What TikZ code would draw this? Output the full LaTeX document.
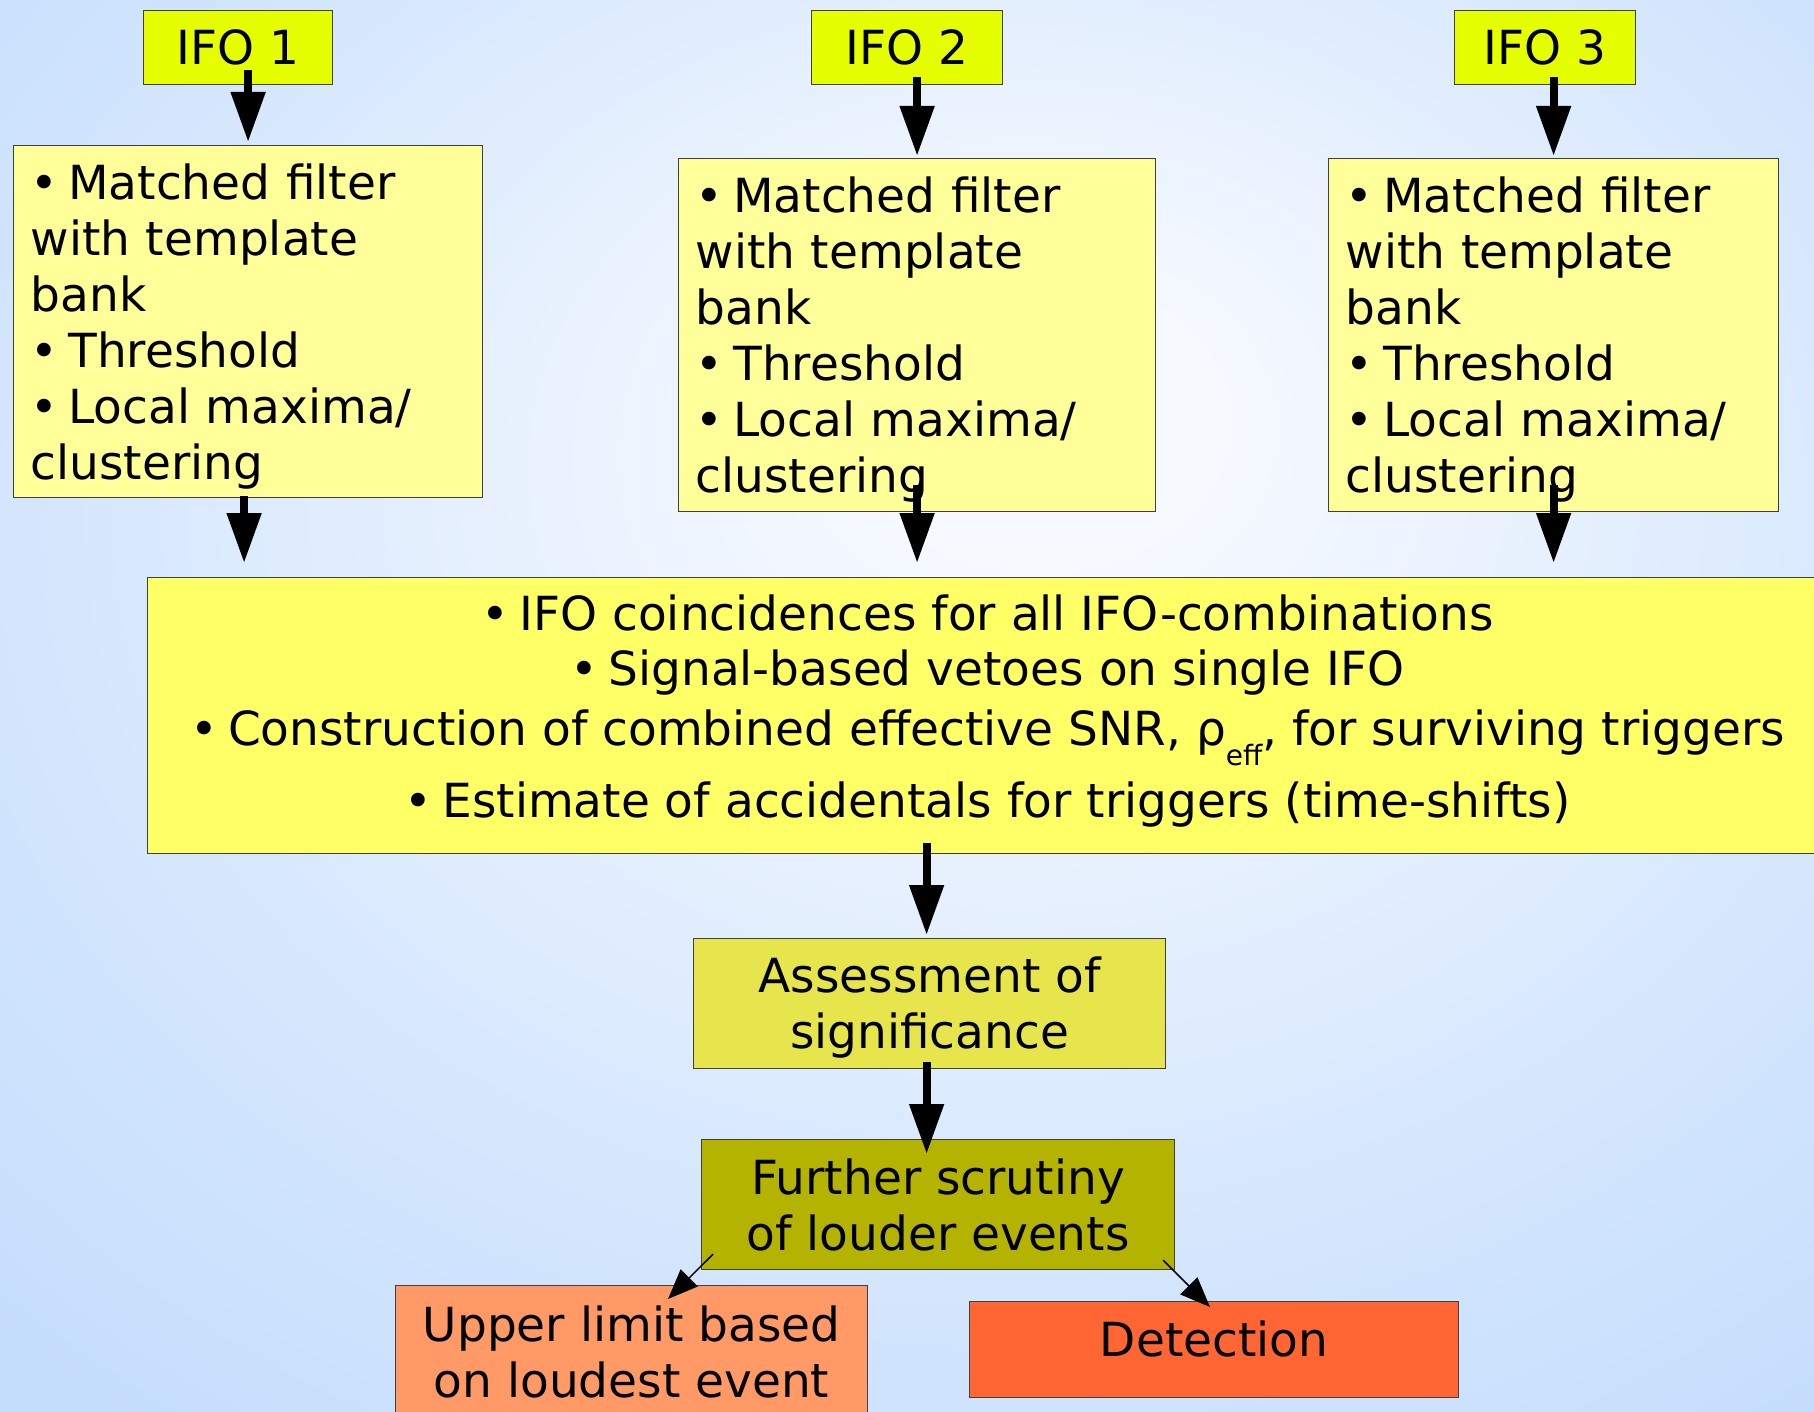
\documentclass[tikz,border=0pt]{standalone}
\usepackage{fontspec}
\setmainfont{DejaVu Sans}
\usetikzlibrary{arrows.meta,calc}
\definecolor{bgin}{HTML}{F6F9FF}
\definecolor{bgmid}{HTML}{D0E4FD}
\definecolor{bgout}{HTML}{A8CDFB}
\definecolor{ifoc}{HTML}{E6FF00}
\definecolor{filc}{HTML}{FFFF99}
\definecolor{mainc}{HTML}{FFFF66}
\definecolor{assc}{HTML}{E6E64C}
\definecolor{furc}{HTML}{B3B300}
\definecolor{upc}{HTML}{FF9966}
\definecolor{detc}{HTML}{FF6633}
\pgfdeclareradialshading{bgshade}{\pgfpoint{4bp}{11bp}}{color(0bp)=(bgin); color(5bp)=(bgin); color(29bp)=(bgmid); color(60bp)=(bgout)}
\newcommand{\bul}{•\kern10pt}
\begin{document}
\begin{tikzpicture}[x=1pt,y=-1pt,
  font=\fontsize{47}{56}\selectfont,
  box/.style={draw=black!75, line width=1.2pt, inner sep=0pt, anchor=north west, align=center},
  ifobox/.style={box, fill=ifoc, minimum width=189pt, minimum height=74pt},
  filbox/.style={box, fill=filc, inner xsep=17pt, align=left, minimum height=353pt},
  arr/.style={line width=8pt, -{Triangle[width=33pt,length=50pt]}},
  thinarr/.style={line width=1.5pt, -{Triangle[width=24pt,length=30pt]}}]
\shade[shading=bgshade] (0,0) rectangle (1814,1412);
\useasboundingbox (0,0) rectangle (1814,1412);
% IFO boxes
\node[ifobox] (i1) at (143,10) {IFO 1};
\node[ifobox, minimum width=191pt] (i2) at (811,10) {IFO 2};
\node[ifobox, minimum width=181pt] (i3) at (1454,10) {IFO 3};
% filter boxes
\node[filbox, text width=435pt, minimum height=352pt] (f1) at (13,145)
  {\rule{0pt}{45pt}\bul Matched filter\\with template\\bank\\\bul Threshold\\\bul Local maxima/\\clustering};
\node[filbox, text width=443pt] (f2) at (678,158)
  {\rule{0pt}{45pt}\bul Matched filter\\with template\\bank\\\bul Threshold\\\bul Local maxima/\\clustering};
\node[filbox, text width=416pt] (f3) at (1328,158)
  {\rule{0pt}{45pt}\bul Matched filter\\with template\\bank\\\bul Threshold\\\bul Local maxima/\\clustering};
% main box
\node[box, fill=mainc, minimum width=1680pt, minimum height=276pt] (m) at (147,577)
  {\bul IFO coincidences for all IFO-combinations\\[-1pt]
   \bul Signal-based vetoes on single IFO\\[4pt]
   \bul Construction of combined effective SNR, ρ\raisebox{-20pt}{\fontsize{28}{28}\selectfont eff}, for surviving triggers\\[14pt]
   \bul Estimate of accidentals for triggers (time-shifts)\rule[-19pt]{0pt}{0pt}};
% lower boxes
\node[box, fill=assc, minimum width=472pt, minimum height=130pt] (as) at (693,938)
  {\rule{0pt}{43pt}Assessment of\\significance};
\node[box, fill=furc, minimum width=473pt, minimum height=130pt] (fu) at (701,1139)
  {Further scrutiny\\of louder events};
\node[box, fill=upc, minimum width=472pt, minimum height=132pt] (up) at (395,1285)
  {Upper limit based\\on loudest event};
\node[box, fill=detc, minimum width=489pt, minimum height=96pt, text depth=22pt] (de) at (969,1301)
  {Detection};
% arrows
\draw[arr] let \p1=(f1.north), \p2=(i1.south) in (\x1,\y2+15pt) -- (\x1,\y1+3pt);
\draw[arr] let \p1=(f2.north), \p2=(i2.south) in (\x1,\y2+8pt) -- (\x1,\y1+2pt);
\draw[arr] let \p1=(f3.north), \p2=(i3.south) in (\x1,\y2+8pt) -- (\x1,\y1+2pt);
\draw[arr] let \p1=(f1.south), \p2=(m.north) in (\x1-4pt,\y1+2pt) -- (\x1-4pt,\y2+14pt);
\draw[arr] let \p1=(f2.south), \p2=(m.north) in (\x1,\y1+27pt) -- (\x1,\y2+14pt);
\draw[arr] let \p1=(f3.south), \p2=(m.north) in (\x1,\y1+27pt) -- (\x1,\y2+14pt);
\draw[arr] let \p1=(as.north), \p2=(m.south) in (\x1-3pt,\y2+11pt) -- (\x1-3pt,\y1+3pt);
\draw[arr] let \p1=(as.south), \p2=(fu.north) in (\x1-3pt,\y1+7pt) -- (\x1-3pt,\y2-15pt);
\draw[thinarr] ($(fu.south west)+(12,-16)$) -- ($(up.north west)+(273,14)$);
\draw[thinarr] ($(fu.south east)+(-12,-10)$) -- ($(de.north west)+(241,6)$);
\end{tikzpicture}
\end{document}
